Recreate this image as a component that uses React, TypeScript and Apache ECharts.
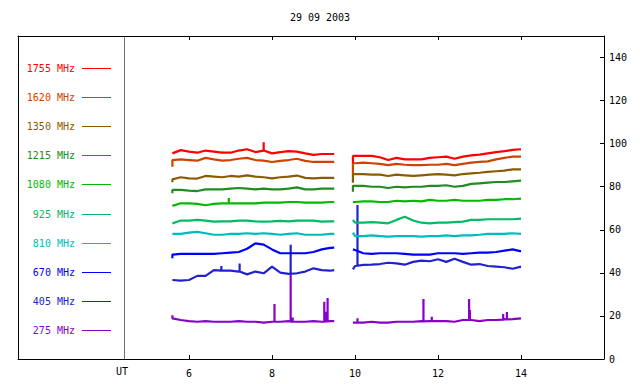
import React, { useEffect, useRef } from "react";
import * as echarts from "echarts";

const TITLE = "29 09 2003";
const X_TICKS = [6, 8, 10, 12, 14];
const Y_TICKS = [0, 20, 40, 60, 80, 100, 120, 140];
const X_MIN = 1.88;
const X_MAX = 16;
const Y_MIN = 0;
const Y_MAX = 150;

const T1 = [5.6, 5.8, 6.0, 6.2, 6.4, 6.6, 6.8, 7.0, 7.2, 7.4, 7.6, 7.8, 8.0, 8.2, 8.4, 8.6, 8.8, 9.0, 9.2, 9.4, 9.5];
const T2 = [9.95, 10.0, 10.2, 10.4, 10.6, 10.8, 11.0, 11.2, 11.4, 11.6, 11.8, 12.0, 12.2, 12.4, 12.6, 12.8, 13.0, 13.2, 13.4, 13.6, 13.8, 14.0];
const GAP_T = 9.72;

const FREQS = ["1755 MHz", "1620 MHz", "1350 MHz", "1215 MHz", "1080 MHz", "925 MHz", "810 MHz", "670 MHz", "405 MHz", "275 MHz"];
const COLORS = ["#ff0000", "#cc4400", "#8a5c00", "#228b22", "#00bb00", "#00bb66", "#00bbbb", "#0000ff", "#2222cc", "#8800cc"];

const A_1755 = [95.5, 97.0, 96.3, 95.8, 96.8, 96.3, 95.8, 95.8, 96.8, 97.4, 96.1, 96.8, 95.5, 96.1, 96.5, 96.3, 95.5, 94.8, 95.2, 95.2, 95.2];
const B_1755 = [94.3, 94.3, 94.3, 94.3, 93.7, 92.4, 93.4, 92.7, 92.7, 92.7, 93.4, 93.7, 94.0, 93.0, 94.0, 94.6, 94.9, 95.5, 96.1, 96.5, 97.1, 97.4];
const S_1755 = [[7.8, 96.8, 100.6], [9.95, 94.3, 90.9]];

const A_1620 = [92.4, 92.7, 92.4, 92.1, 93.4, 92.7, 92.1, 92.4, 93.0, 93.4, 92.4, 92.1, 91.5, 92.0, 92.4, 93.0, 92.0, 91.5, 91.5, 91.5, 91.5];
const B_1620 = [90.9, 90.9, 91.2, 90.9, 90.6, 90.0, 90.6, 90.2, 90.0, 90.0, 90.2, 90.2, 90.6, 90.0, 90.6, 91.2, 91.5, 91.8, 92.7, 93.4, 94.0, 94.0];
const S_1620 = [[5.6, 92.4, 89.3], [9.95, 90.9, 85.9]];

const A_1350 = [83.4, 84.4, 83.9, 83.8, 85.0, 84.7, 84.4, 85.0, 84.7, 85.3, 84.7, 84.4, 83.9, 84.4, 84.7, 85.2, 84.1, 83.9, 84.1, 84.1, 84.1];
const B_1350 = [85.9, 85.9, 85.9, 85.6, 85.6, 85.0, 85.6, 85.3, 85.0, 85.3, 85.6, 85.9, 85.6, 85.3, 85.9, 86.2, 86.5, 86.9, 87.2, 87.5, 88.1, 88.1];
const S_1350 = [[5.6, 83.4, 82.1], [9.95, 85.9, 81.9]];

const A_1215 = [78.5, 78.5, 78.2, 78.0, 78.8, 78.8, 78.8, 79.1, 79.4, 79.1, 78.8, 79.1, 78.8, 78.8, 79.1, 79.7, 78.8, 78.8, 79.1, 79.1, 79.1];
const B_1215 = [80.4, 80.4, 80.4, 80.0, 80.0, 79.4, 80.0, 79.7, 80.0, 80.0, 80.4, 80.4, 80.7, 80.0, 80.4, 81.3, 81.6, 81.9, 82.2, 82.2, 82.5, 82.8];
const S_1215 = [[5.6, 78.5, 77.0], [9.95, 80.4, 77.7]];

const A_1080 = [71.1, 72.3, 72.3, 72.0, 71.4, 72.0, 72.3, 72.3, 72.3, 72.3, 72.3, 72.6, 72.6, 72.6, 72.9, 72.9, 72.6, 72.6, 72.6, 72.9, 72.9];
const B_1080 = [72.9, 72.9, 73.2, 73.2, 72.9, 72.9, 73.5, 73.2, 73.5, 73.2, 73.9, 73.5, 73.5, 73.9, 73.5, 73.5, 73.5, 73.9, 73.9, 74.2, 74.2, 74.5];
const S_1080 = [[6.96, 72.3, 74.8]];

const A_925 = [63.0, 64.3, 64.3, 64.6, 64.3, 63.8, 63.9, 63.9, 64.3, 64.3, 63.9, 63.8, 63.9, 64.1, 63.9, 64.3, 64.3, 64.3, 63.8, 63.9, 63.9];
const B_925 = [64.6, 63.3, 63.3, 63.6, 63.3, 63.0, 64.6, 66.1, 64.3, 63.3, 63.0, 63.3, 63.3, 63.6, 63.8, 64.6, 64.6, 64.9, 64.9, 64.9, 64.9, 65.2];
const S_925: number[][] = [];

const A_810 = [58.1, 58.1, 58.7, 59.0, 58.4, 57.7, 57.7, 58.1, 58.1, 58.4, 58.1, 58.4, 58.1, 57.7, 58.1, 58.4, 57.7, 57.7, 57.7, 58.1, 58.1];
const B_810 = [58.7, 57.1, 57.1, 57.4, 57.1, 56.8, 57.1, 57.1, 57.1, 56.8, 57.1, 57.1, 57.4, 57.1, 57.4, 57.4, 57.7, 58.1, 58.1, 58.1, 58.4, 58.1];
const S_810: number[][] = [];

const A_670 = [48.5, 48.8, 48.8, 48.8, 48.8, 48.8, 49.1, 49.4, 49.7, 51.2, 53.7, 53.1, 50.9, 49.1, 49.1, 49.1, 49.1, 49.7, 50.9, 51.6, 51.7];
const B_670 = [50.9, 50.6, 49.1, 48.8, 49.1, 49.1, 49.1, 48.8, 48.5, 48.5, 48.5, 49.1, 49.1, 49.1, 48.8, 49.1, 49.4, 49.4, 49.7, 50.3, 50.9, 50.0];
const S_670 = [[5.6, 48.5, 46.8]];

const A_405 = [36.7, 36.4, 36.7, 38.6, 38.6, 41.3, 41.0, 41.0, 40.6, 39.3, 40.6, 39.8, 42.9, 40.1, 39.5, 39.8, 40.6, 42.1, 41.3, 41.0, 41.3];
const B_405 = [41.6, 43.2, 43.7, 43.8, 44.1, 44.7, 44.4, 43.8, 45.1, 45.7, 45.4, 46.3, 45.1, 46.6, 45.1, 43.8, 44.1, 43.2, 42.9, 42.6, 41.9, 42.9];
const S_405 = [[6.78, 41.0, 43.2], [7.22, 40.6, 44.4], [8.45, 39.6, 53.0], [10.06, 43.3, 71.5]];

const A_275 = [18.9, 18.1, 17.6, 17.3, 17.6, 17.3, 17.3, 17.3, 17.6, 17.3, 17.3, 16.9, 17.3, 17.3, 17.6, 17.3, 17.3, 17.6, 17.3, 17.6, 17.6];
const B_275 = [16.9, 16.9, 16.9, 17.3, 16.9, 16.9, 17.3, 17.3, 17.3, 17.6, 17.6, 17.6, 17.6, 17.3, 18.1, 18.1, 17.6, 18.1, 18.1, 18.5, 18.5, 18.9];
const S_275 = [
  [5.6, 18.9, 20.3], [8.06, 17.3, 25.5], [8.45, 17.4, 40.0], [8.5, 17.4, 19.3],
  [9.26, 17.3, 26.6], [9.3, 17.4, 21.9], [9.34, 17.5, 28.3], [10.06, 16.9, 18.9],
  [11.65, 17.5, 27.9], [11.85, 17.6, 19.6], [12.75, 18.1, 27.9], [12.77, 18.1, 22.8],
  [13.57, 18.3, 20.9], [13.66, 18.4, 21.8],
];

const SERIES_A = [A_1755, A_1620, A_1350, A_1215, A_1080, A_925, A_810, A_670, A_405, A_275];
const SERIES_B = [B_1755, B_1620, B_1350, B_1215, B_1080, B_925, B_810, B_670, B_405, B_275];
const SERIES_S = [S_1755, S_1620, S_1350, S_1215, S_1080, S_925, S_810, S_670, S_405, S_275];

const FONT = "DejaVu Sans Mono";

function buildData(a: number[], b: number[], spikes: number[][]) {
  type G = { t: number; pts: any[] };
  const groups: G[] = [];
  T1.forEach((t, i) => groups.push({ t, pts: [[t, a[i]]] }));
  groups.push({ t: GAP_T, pts: [[GAP_T, "-"]] });
  T2.forEach((t, i) => groups.push({ t, pts: [[t, b[i]]] }));
  spikes.forEach(([t, base, peak]) => groups.push({ t: t + 1e-6, pts: [[t, base], [t, peak], [t, base]] }));
  groups.sort((p, q) => p.t - q.t);
  const out: any[] = [];
  groups.forEach((g) => out.push(...g.pts));
  return out;
}

export default function App() {
  const ref = useRef<HTMLDivElement>(null);
  useEffect(() => {
    if (!ref.current) return;
    const chart = echarts.init(ref.current, undefined, { renderer: "svg" });
    const legendY0 = 68;
    const legendDy = 29.1;
    const graphics: any[] = [
      {
        type: "text",
        x: 320,
        y: 17,
        style: { text: TITLE, font: `10px "${FONT}"`, fill: "#000", textAlign: "center", textVerticalAlign: "middle" },
      },
      {
        type: "line",
        shape: { x1: 124.5, y1: 36, x2: 124.5, y2: 359 },
        style: { stroke: "#707070", lineWidth: 1 },
      },
      {
        type: "text",
        x: 122,
        y: 371,
        style: { text: "UT", font: `10px "${FONT}"`, fill: "#000", textAlign: "center", textVerticalAlign: "middle" },
      },
    ];
    FREQS.forEach((f, i) => {
      const y = Math.round(legendY0 + i * legendDy) + 0.5;
      graphics.push({
        type: "text",
        x: 75,
        y,
        style: { text: f, font: `10px "${FONT}"`, fill: COLORS[i], textAlign: "right", textVerticalAlign: "middle" },
      });
      graphics.push({
        type: "line",
        shape: { x1: 82, y1: y, x2: 111, y2: y },
        style: { stroke: COLORS[i], lineWidth: 1 },
      });
    });

    const series = FREQS.map((f, i) => ({
      name: f,
      type: "line",
      xAxisIndex: 0,
      yAxisIndex: 0,
      showSymbol: false,
      symbol: "none",
      connectNulls: false,
      lineStyle: { color: COLORS[i], width: 2.2 },
      data: buildData(SERIES_A[i], SERIES_B[i], SERIES_S[i]),
      z: 10 - i,
    }));

    const axisLine = { show: true, onZero: false, lineStyle: { color: "#000", width: 1 } };
    const labelStyle = { fontFamily: FONT, fontSize: 10, color: "#000" };

    chart.setOption({
      animation: false,
      backgroundColor: "#fff",
      grid: { left: 18, right: 36, top: 36, bottom: 25, containLabel: false },
      xAxis: [
        {
          type: "value",
          position: "bottom",
          min: X_MIN,
          max: X_MAX,
          axisLine,
          axisTick: { show: true, inside: true, length: 4, customValues: X_TICKS, lineStyle: { color: "#000" } },
          axisLabel: { show: true, customValues: X_TICKS, margin: 9, ...labelStyle },
          splitLine: { show: false },
        },
        {
          type: "value",
          position: "top",
          min: X_MIN,
          max: X_MAX,
          axisLine,
          axisTick: { show: true, inside: true, length: 4, customValues: X_TICKS, lineStyle: { color: "#000" } },
          axisLabel: { show: false },
          splitLine: { show: false },
        },
      ],
      yAxis: [
        {
          type: "value",
          position: "right",
          min: Y_MIN,
          max: Y_MAX,
          axisLine,
          axisTick: { show: true, inside: true, length: 4, customValues: Y_TICKS, lineStyle: { color: "#000" } },
          axisLabel: { show: true, customValues: Y_TICKS, margin: 5, ...labelStyle },
          splitLine: { show: false },
        },
        {
          type: "value",
          position: "left",
          min: Y_MIN,
          max: Y_MAX,
          axisLine,
          axisTick: { show: false },
          axisLabel: { show: false },
          splitLine: { show: false },
        },
      ],
      graphic: graphics,
      series,
    });
    return () => chart.dispose();
  }, []);
  return <div ref={ref} style={{ position: "fixed", left: 0, top: 0, width: 640, height: 384 }} />;
}
